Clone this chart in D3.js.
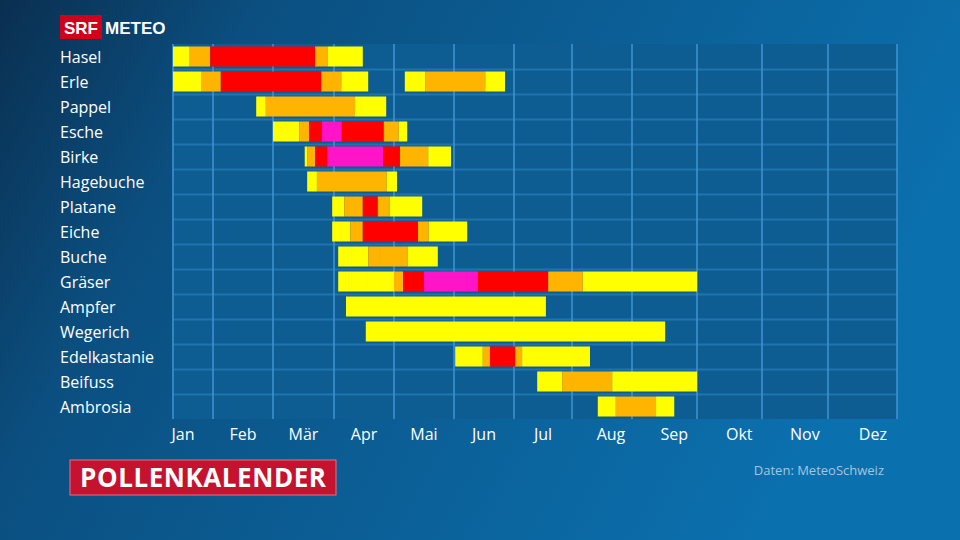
<!DOCTYPE html>
<html><head><meta charset="utf-8">
<script src="https://cdn.jsdelivr.net/npm/d3@7"></script>
<style>body{margin:0;background:#000}svg{display:block;font-family:"Open Sans",sans-serif}</style>
</head><body><svg id="c" width="960" height="540"></svg>
<script>
const months=["Jan","Feb","Mär","Apr","Mai","Jun","Jul","Aug","Sep","Okt","Nov","Dez"];
const plants=["Hasel","Erle","Pappel","Esche","Birke","Hagebuche","Platane","Eiche","Buche","Gräser","Ampfer","Wegerich","Edelkastanie","Beifuss","Ambrosia"];
// segments per plant: [start month, end month, level 1=schwach..4=sehr stark]
const hasel=[[0,0.4,1],[0.4,0.93,2],[0.93,2.69,3],[2.69,2.9,2],[2.9,3.48,1]];
const erle=[[0,0.7,1],[0.7,1.13,2],[1.13,2.79,3],[2.79,3.12,2],[3.12,3.57,1],[4.18,4.52,1],[4.52,5.52,2],[5.52,5.85,1]];
const pappel=[[1.72,1.88,1],[1.88,3.35,2],[3.35,3.87,1]];
const esche=[[2.0,2.43,1],[2.43,2.59,2],[2.59,2.8,3],[2.8,3.13,4],[3.13,3.83,3],[3.83,4.08,2],[4.08,4.22,1]];
const birke=[[2.52,2.56,1],[2.56,2.69,2],[2.69,2.89,3],[2.89,3.82,4],[3.82,4.1,3],[4.1,4.57,2],[4.57,4.95,1]];
const hagebuche=[[2.56,2.72,1],[2.72,3.88,2],[3.88,4.05,1]];
const platane=[[2.97,3.17,1],[3.17,3.48,2],[3.48,3.73,3],[3.73,3.93,2],[3.93,4.47,1]];
const eiche=[[2.97,3.27,1],[3.27,3.48,2],[3.48,4.4,3],[4.4,4.58,2],[4.58,5.22,1]];
const buche=[[3.07,3.57,1],[3.57,4.23,2],[4.23,4.73,1]];
const graeser=[[3.07,4.0,1],[4.0,4.15,2],[4.15,4.5,3],[4.5,5.4,4],[5.4,6.59,3],[6.59,7.18,2],[7.18,9.0,1]];
const ampfer=[[3.2,6.55,1]];
const wegerich=[[3.53,8.51,1]];
const edelkastanie=[[5.02,5.48,1],[5.48,5.6,2],[5.6,6.02,3],[6.02,6.14,2],[6.14,7.3,1]];
const beifuss=[[6.4,6.83,1],[6.83,7.67,2],[7.67,9.0,1]];
const ambrosia=[[7.43,7.73,1],[7.73,8.37,2],[8.37,8.65,1]];
const series=[hasel,erle,pappel,esche,birke,hagebuche,platane,eiche,buche,graeser,ampfer,wegerich,edelkastanie,beifuss,ambrosia];
const levelColors=["#ffff00","#ffb400","#ff0000","#ff14c8"];

const svg=d3.select("#c");
const defs=svg.append("defs");
const g=defs.append("linearGradient").attr("id","bg").attr("x1",0).attr("x2",1).attr("y1",0).attr("y2",0.3);
g.append("stop").attr("offset","0%").attr("stop-color","#0a2f50");
g.append("stop").attr("offset","25%").attr("stop-color","#0b4f80");
g.append("stop").attr("offset","100%").attr("stop-color","#0b70ae");
svg.append("rect").attr("width",960).attr("height",540).attr("fill","url(#bg)");

const x=d3.scaleLinear().domain(d3.range(13)).range([173,213,273,334,394,454,514,572,632,697,762,828,897]);
const y=d3.scaleBand().domain(plants).range([44,419]).paddingInner(0.2).paddingOuter(0.1);
const step=y.step();

svg.append("rect").attr("x",x(0)).attr("y",44).attr("width",x(12)-x(0)).attr("height",375).attr("fill","#0e5d92");
svg.selectAll(".hl").data(plants.slice(1)).join("line")
 .attr("x1",x(0)).attr("x2",x(12))
 .attr("y1",d=>y(d)-step*0.1+0.5).attr("y2",d=>y(d)-step*0.1+0.5)
 .attr("stroke","#1f74ad").attr("stroke-width",2);
svg.selectAll(".vl").data(d3.range(13)).join("line")
 .attr("x1",d=>x(d)).attr("x2",d=>x(d)).attr("y1",44).attr("y2",419)
 .attr("stroke","#3f95d6").attr("stroke-width",1.5);

series.forEach((segs,i)=>{
 svg.append("g").selectAll("rect").data(segs).join("rect")
  .attr("x",d=>x(d[0])).attr("width",d=>x(d[1])-x(d[0]))
  .attr("y",y(plants[i])).attr("height",y.bandwidth())
  .attr("fill",d=>levelColors[d[2]-1]);
});

svg.selectAll(".pl").data(plants).join("text")
 .attr("x",60).attr("y",d=>y(d)+y.bandwidth()/2+6)
 .attr("fill","#fff").attr("font-size",16).text(d=>d);

svg.selectAll(".ml").data(months).join("text")
 .attr("x",(d,i)=>i===0?183:x(i+(i>=7?0.65:0.5))).attr("y",440)
 .attr("text-anchor","middle").attr("fill","#fff").attr("font-size",16).text(d=>d);

svg.append("rect").attr("x",60).attr("y",15).attr("width",42).attr("height",24).attr("fill","#d0021b");
svg.append("text").attr("x",81).attr("y",34).attr("text-anchor","middle").attr("fill","#fff").attr("font-weight","bold").attr("font-size",17).attr("font-family","Liberation Sans, Arial").text("SRF");
svg.append("text").attr("x",105).attr("y",34).attr("fill","#fff").attr("font-weight","bold").attr("font-size",17).attr("font-family","Liberation Sans, Arial").text("METEO");

svg.append("rect").attr("x",70).attr("y",460).attr("width",266).attr("height",35).attr("fill","#c4122f").attr("stroke","#e87080").attr("stroke-width",1);
svg.append("text").attr("x",203).attr("y",487).attr("text-anchor","middle").attr("fill","#fff").attr("font-weight","bold").attr("font-size",26).attr("textLength",246).text("POLLENKALENDER");
svg.append("text").attr("x",884).attr("y",475).attr("text-anchor","end").attr("fill","#a9c4dc").attr("font-size",13).text("Daten: MeteoSchweiz");
</script></body></html>
